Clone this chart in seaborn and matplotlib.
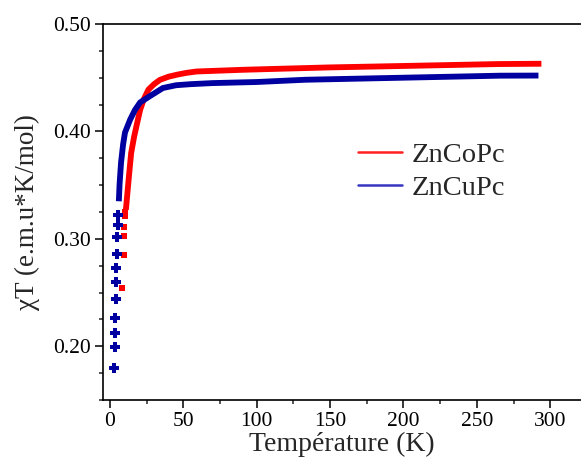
import numpy as np
import pandas as pd
import matplotlib
matplotlib.use("Agg")
import matplotlib.pyplot as plt
from matplotlib.ticker import MultipleLocator, FormatStrFormatter
from matplotlib.lines import Line2D
import seaborn as sns

# ---- data ----
co_curve_T = [10.8, 12.0, 13.0, 14.4, 16.4, 18.5, 20.5, 23.0, 26.2, 30.0, 34.0, 40.0,
              45.6, 52.0, 59.0, 91.0, 120.0, 150.0, 206.0, 264.0, 294.0]
co_curve_chi = [0.327, 0.345, 0.360, 0.380, 0.395, 0.408, 0.420, 0.430, 0.439, 0.444, 0.448, 0.451,
                0.4528, 0.4545, 0.4558, 0.4574, 0.4585, 0.4596, 0.4611, 0.4627, 0.4630]
co_low_T = [8.4, 9.6, 9.6, 9.8, 10.2, 10.5]
co_low_chi = [0.2546, 0.285, 0.303, 0.311, 0.3216, 0.325]

cu_curve_T = [6.0, 6.5, 7.5, 8.9, 10.2, 13.7, 17.0, 20.5, 27.0, 36.0, 45.0, 55.0,
              70.0, 100.0, 133.0, 189.0, 266.0, 292.0]
cu_curve_chi = [0.335, 0.351, 0.371, 0.388, 0.399, 0.411, 0.420, 0.427, 0.4327, 0.4404, 0.443, 0.4440,
                0.445, 0.446, 0.4481, 0.4497, 0.4519, 0.4520]
cu_low_T = [3.0, 3.2, 3.3, 3.5, 3.8, 4.1, 4.4, 4.8, 5.0, 5.3, 5.6]
cu_low_chi = [0.180, 0.199, 0.212, 0.226, 0.244, 0.260, 0.273, 0.286, 0.302, 0.313, 0.322]

series = ["ZnCoPc", "ZnCuPc"]
colors = {"ZnCoPc": "#ff0000", "ZnCuPc": "#0000a0"}
legend_colors = {"ZnCoPc": "#ff2020", "ZnCuPc": "#3535c0"}

x_ticks = [0, 50, 100, 150, 200, 250, 300]
y_ticks = [0.20, 0.30, 0.40, 0.50]

sns.set_theme(style="ticks")
plt.rcParams["font.family"] = ["Liberation Serif", "DejaVu Serif"]

fig = plt.figure(figsize=(5.81, 4.57), dpi=100)
ax = fig.add_axes([103 / 581, 1 - 400 / 457, 1 - 103 / 581, (400 - 24) / 457])

curves = pd.DataFrame({
    "T": co_curve_T + cu_curve_T,
    "chi": co_curve_chi + cu_curve_chi,
    "s": ["ZnCoPc"] * len(co_curve_T) + ["ZnCuPc"] * len(cu_curve_T),
})
sns.lineplot(data=curves, x="T", y="chi", hue="s", palette=colors, lw=4.2,
             legend=False, ax=ax, solid_capstyle="butt")

co_pts = pd.DataFrame({"T": co_low_T, "chi": co_low_chi})
cu_pts = pd.DataFrame({"T": cu_low_T, "chi": cu_low_chi})
sns.scatterplot(data=co_pts, x="T", y="chi", color=colors["ZnCoPc"], marker="s",
                s=16, linewidth=0, ax=ax)
sns.scatterplot(data=cu_pts, x="T", y="chi", color=colors["ZnCuPc"], marker="P",
                s=42, linewidth=0, ax=ax)

ax.set_xlim(-4.8, 321)
ax.set_ylim(0.15, 0.50)
ax.xaxis.set_minor_locator(MultipleLocator(25))
ax.yaxis.set_minor_locator(MultipleLocator(0.025))
ax.set_xticks(x_ticks)
ax.set_yticks(y_ticks)
ax.yaxis.set_major_formatter(FormatStrFormatter("%.2f"))
ax.tick_params(axis="both", which="major", direction="out", length=6, width=1.1,
               labelsize=15.5, colors="black", pad=3)
ax.tick_params(axis="both", which="minor", direction="out", length=3, width=1.1)
for sp in ["left", "bottom", "top"]:
    ax.spines[sp].set_linewidth(1.2)
    ax.spines[sp].set_color("black")
ax.spines["right"].set_visible(False)

ax.set_xlabel("Température (K)", fontsize=20, labelpad=0)
ax.set_ylabel("χT (e.m.u*K/mol)", fontsize=19.5, labelpad=9)

handles = [Line2D([0], [0], color=legend_colors[s], lw=1.8) for s in series]
ax.legend(handles, series, loc="upper left", bbox_to_anchor=(0.533, 0.686), frameon=False,
          fontsize=20.5, handlelength=1.55, handletextpad=0.35, labelspacing=0.25,
          borderpad=0, borderaxespad=0)

fig.savefig("out.png", dpi=100)
